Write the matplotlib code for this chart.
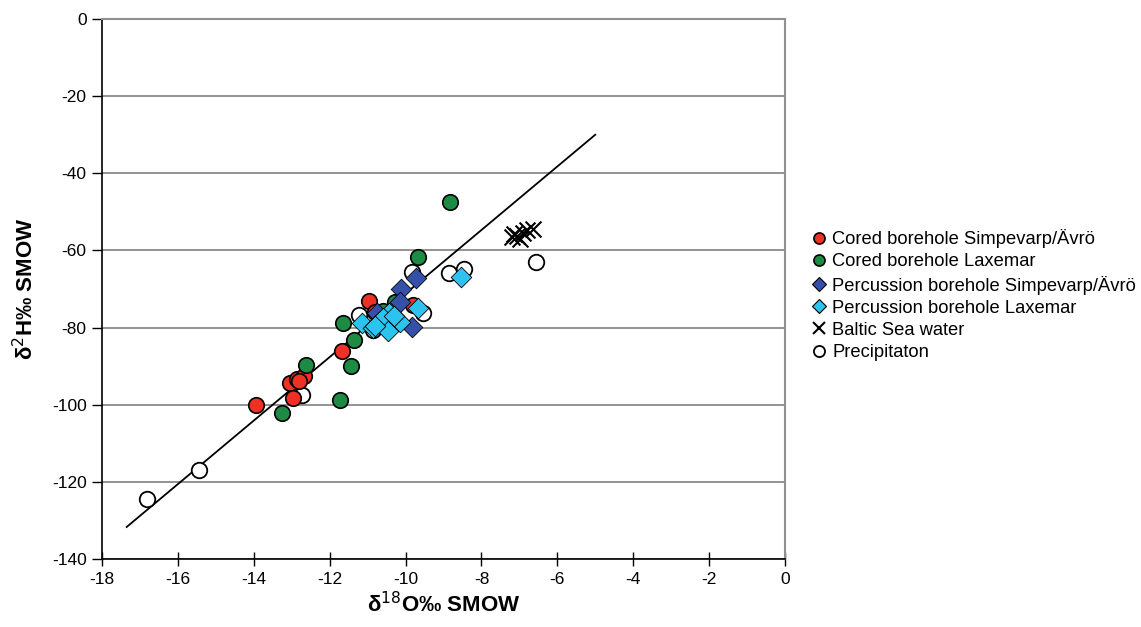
import matplotlib
matplotlib.use("Agg")
import matplotlib.pyplot as plt
from matplotlib.lines import Line2D

plt.rcParams['font.family'] = ['Liberation Sans', 'DejaVu Sans']
plt.rcParams['axes.unicode_minus'] = False

# Cored borehole Simpevarp/Ävrö
red_x = [-13.94, -13.05, -12.86, -12.68, -12.97, -11.67, -10.96, -10.80, -9.80, -12.80]
red_y = [-100.1, -94.4, -93.3, -92.6, -98.3, -86.1, -73.1, -75.9, -74.2, -93.8]
# Cored borehole Laxemar
green_x = [-8.83, -9.66, -11.64, -11.35, -12.62, -11.45, -11.74, -13.25, -10.28, -10.60]
green_y = [-47.5, -61.6, -78.7, -83.2, -89.7, -90.0, -98.8, -102.1, -73.3, -75.8]
# Percussion borehole Simpevarp/Ävrö
dblue_x = [-10.13, -9.73, -10.15, -9.84, -10.76]
dblue_y = [-69.9, -67.2, -73.4, -79.8, -76.3]
# Percussion borehole Laxemar
lblue_x = [-8.55, -9.68, -11.15, -10.85, -10.70, -10.43, -10.60, -10.15, -10.45, -10.80, -10.30]
lblue_y = [-67.0, -74.8, -78.8, -80.0, -78.6, -76.2, -77.6, -78.5, -80.9, -79.5, -77.0]
# Baltic Sea water
baltic_x = [-7.20, -7.15, -7.05, -6.98, -6.90, -6.80, -6.65]
baltic_y = [-56.5, -55.8, -56.2, -57.0, -55.5, -54.8, -54.5]
# Precipitation
prec_x = [-16.81, -15.44, -12.73, -11.24, -9.84, -8.85, -8.45, -6.56, -9.55, -10.85]
prec_y = [-124.4, -116.9, -97.5, -76.7, -65.5, -65.9, -64.9, -62.9, -76.1, -80.6]
# Meteoric water line endpoints
line_x = [-17.35, -5.0]
line_y = [-131.7, -30.0]

fig = plt.figure(figsize=(11.41, 6.27), dpi=100)
ax = fig.add_axes([102/1141, 1-559/627, (785-102)/1141, (559-19)/627])

ms = 125
ax.plot(line_x, line_y, color='black', lw=1.3, zorder=2)
ax.scatter(prec_x, prec_y, s=ms, marker='o', facecolor='white', edgecolor='black', lw=1.3, zorder=3)
ax.scatter(red_x, red_y, s=ms, marker='o', facecolor='#EE3124', edgecolor='black', lw=1.2, zorder=3)
ax.scatter(green_x, green_y, s=ms, marker='o', facecolor='#1E8B45', edgecolor='black', lw=1.2, zorder=3)
ax.scatter(dblue_x, dblue_y, s=110, marker='D', facecolor='#3550A8', edgecolor='black', lw=0.6, zorder=4)
ax.scatter(lblue_x, lblue_y, s=110, marker='D', facecolor='#2CC3EE', edgecolor='black', lw=0.6, zorder=4)
ax.scatter(baltic_x, baltic_y, s=130, marker='x', color='black', lw=1.5, zorder=5)

ax.set_xlim(-18, 0)
ax.set_ylim(-140, 0)
ax.set_xticks(range(-18, 1, 2))
ax.set_yticks(range(-140, 1, 20))
ax.yaxis.grid(True, color='#808080', lw=1.2)
ax.set_axisbelow(True)
for s in ['top', 'right']:
    ax.spines[s].set_color('#909090')
    ax.spines[s].set_linewidth(1.5)
for s in ['left', 'bottom']:
    ax.spines[s].set_color('black')
    ax.spines[s].set_linewidth(1.2)
ax.tick_params(axis='x', direction='inout', length=10, width=1, labelsize=12.5, pad=4)
ax.tick_params(axis='y', direction='out', length=7, width=1, labelsize=12.5, pad=4)

ax.set_xlabel(r'δ$^{18}$O‰ SMOW', fontsize=16, fontweight='bold', labelpad=4)
ax.set_ylabel(r'δ$^{2}$H‰ SMOW', fontsize=16, fontweight='bold', labelpad=10)

handles = [
    Line2D([], [], ls='', marker='o', ms=8, mfc='#EE3124', mec='black', mew=1.2),
    Line2D([], [], ls='', marker='o', ms=8, mfc='#1E8B45', mec='black', mew=1.2),
    Line2D([], [], ls='', marker='D', ms=7, mfc='#3550A8', mec='black', mew=0.8),
    Line2D([], [], ls='', marker='D', ms=7, mfc='#2CC3EE', mec='black', mew=0.8),
    Line2D([], [], ls='', marker='x', ms=8, color='black', mew=1.5),
    Line2D([], [], ls='', marker='o', ms=8, mfc='white', mec='black', mew=1.3),
]
labels = ['Cored borehole Simpevarp/Ävrö', 'Cored borehole Laxemar',
          'Percussion borehole Simpevarp/Ävrö', 'Percussion borehole Laxemar',
          'Baltic Sea water', 'Precipitaton']
fig.legend(handles, labels, loc='upper left', bbox_to_anchor=(803/1141, 1-222/627),
           frameon=False, fontsize=13.2, handletextpad=0.2, labelspacing=0.28,
           handlelength=1.0, borderaxespad=0)

fig.savefig('out.png', dpi=100)
